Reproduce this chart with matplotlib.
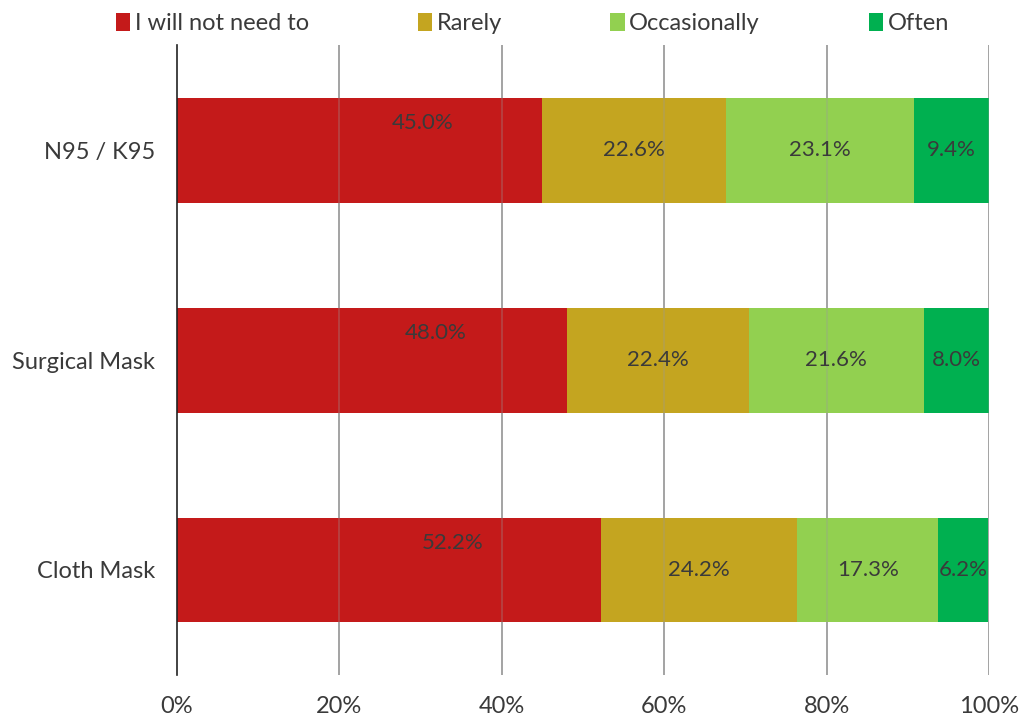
import matplotlib.pyplot as plt
import numpy as np

plt.rcParams['font.family'] = ['Lato', 'DejaVu Sans']

# Data
categories = ["N95 / K95", "Surgical Mask", "Cloth Mask"]
series_names = ["I will not need to", "Rarely", "Occasionally", "Often"]
not_need = [45.0, 48.0, 52.2]
rarely = [22.6, 22.4, 24.2]
occasionally = [23.1, 21.6, 17.3]
often = [9.4, 8.0, 6.2]
colors = ["#C41A1A", "#C4A520", "#92D050", "#00B050"]

series = [not_need, rarely, occasionally, often]

fig = plt.figure(figsize=(10.24, 7.19), dpi=100)
ax = fig.add_axes([0.1729, 0.0612, 0.7930, 0.8762])

y = np.arange(len(categories))
left = np.zeros(len(categories))
for i, (vals, name, col) in enumerate(zip(series, series_names, colors)):
    vals = np.array(vals)
    ax.barh(y, vals, left=left, height=0.5, color=col, label=name, zorder=2)
    for j, v in enumerate(vals):
        cx = left[j] + v / 2
        cy = y[j]
        if i == 0:
            # first segment labels sit offset up/right in the original
            cx += 7.8
            cy -= 0.13
        ax.text(cx, cy, f"{v:.1f}%", ha="center", va="center",
                fontsize=16, color="#3a3a3a", zorder=4)
    left += vals

ax.set_xlim(0, 100)
ax.set_ylim(2.5, -0.5)
ax.set_yticks(y)
ax.set_yticklabels(categories, fontsize=17, color="#3a3a3a")
ax.set_xticks(np.arange(0, 101, 20))
ax.set_xticklabels([f"{t}%" for t in range(0, 101, 20)], fontsize=17, color="#3a3a3a")
ax.tick_params(axis="both", length=0)
ax.tick_params(axis="y", pad=16)
ax.tick_params(axis="x", pad=15)

for x in range(20, 101, 20):
    ax.axvline(x, color="#999999", lw=1.2, alpha=0.35, zorder=3)
    ax.axvline(x, color="#999999", lw=1.2, zorder=1)

for s in ["top", "right", "bottom"]:
    ax.spines[s].set_visible(False)
ax.spines["left"].set_color("#222222")
ax.spines["left"].set_linewidth(1.2)
ax.spines["left"].set_zorder(5)

fig.legend(loc="upper center", bbox_to_anchor=(0.52, 1.012), ncol=4, frameon=False,
           fontsize=17, handlelength=0.6, handleheight=0.8, handletextpad=0.2,
           columnspacing=4.6, labelcolor="#3a3a3a")

fig.savefig("out.png", dpi=100)
